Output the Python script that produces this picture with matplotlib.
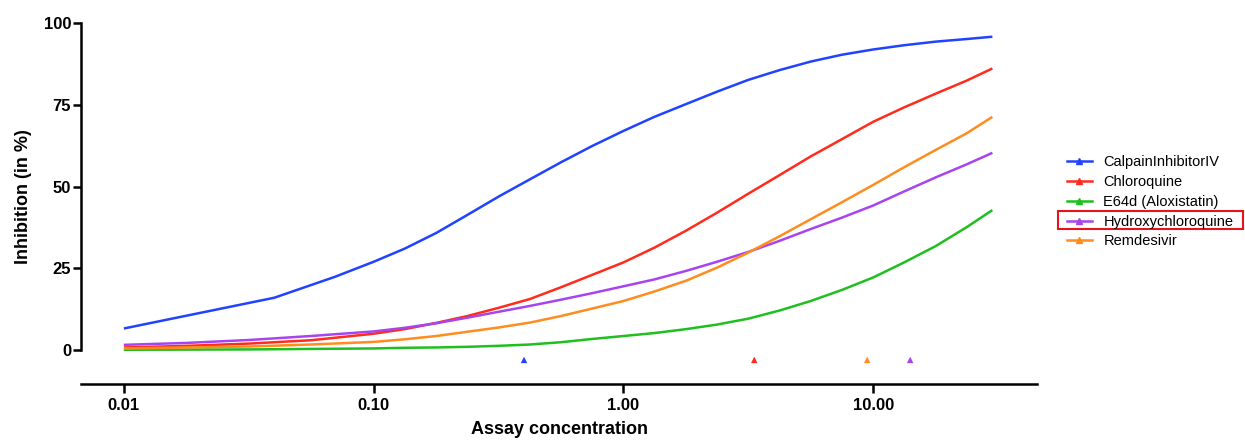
import matplotlib
matplotlib.use("Agg")
import matplotlib.pyplot as plt
from matplotlib.lines import Line2D
from matplotlib.patches import Rectangle

plt.rcParams["font.family"] = ["Liberation Sans", "DejaVu Sans"]

# concentrations
conc = [0.01, 0.018, 0.032, 0.056, 0.1, 0.133, 0.178, 0.237, 0.316, 0.422, 0.562, 0.75,
        1.0, 1.33, 1.78, 2.37, 3.16, 4.22, 5.62, 7.5, 10, 13.3, 17.8, 23.7, 30]
conc_calpain = [0.01, 0.04, 0.07, 0.1, 0.133, 0.178, 0.237, 0.316, 0.422, 0.562, 0.75,
                1.0, 1.33, 1.78, 2.37, 3.16, 4.22, 5.62, 7.5, 10, 13.3, 17.8, 23.7, 30]

calpain = [6.6, 16.0, 22.4, 27.0, 31.0, 35.8, 41.3, 46.9, 52.2, 57.4, 62.4,
           67.0, 71.3, 75.2, 79.0, 82.6, 85.6, 88.2, 90.3, 91.9, 93.2, 94.3, 95.1, 95.8]
chloroquine = [0.8, 1.3, 2.0, 3.0, 5.0, 6.4, 8.3, 10.4, 12.9, 15.6, 19.2, 23.0,
               26.8, 31.3, 36.5, 42.0, 47.8, 53.5, 59.2, 64.5, 69.8, 74.2, 78.4, 82.4, 86.1]
e64d = [0.1, 0.15, 0.2, 0.35, 0.5, 0.7, 0.8, 1.0, 1.3, 1.7, 2.4, 3.4,
        4.3, 5.2, 6.4, 7.8, 9.6, 12.1, 15.0, 18.4, 22.2, 26.8, 31.8, 37.6, 42.8]
hydroxy = [1.6, 2.2, 3.1, 4.3, 5.7, 6.8, 8.2, 9.9, 11.7, 13.5, 15.4, 17.4,
           19.5, 21.6, 24.2, 27.0, 30.0, 33.4, 37.0, 40.5, 44.2, 48.5, 52.8, 56.8, 60.3]
remdesivir = [0.5, 0.8, 1.1, 1.7, 2.5, 3.3, 4.3, 5.6, 6.9, 8.4, 10.4, 12.7,
              15.0, 17.9, 21.2, 25.2, 29.8, 34.8, 40.0, 45.2, 50.5, 55.9, 61.2, 66.3, 71.3]

# IC50 markers shown under the curves
ic50_x = [0.40, 3.34, 9.46, 14.06]
ic50_y = [-3, -3, -3, -3]

names = ["CalpainInhibitorIV", "Chloroquine", "E64d (Aloxistatin)", "Hydroxychloroquine", "Remdesivir"]
colors = ["#2143FF", "#FF2B1C", "#1FBF1F", "#A844EE", "#FF8C1E"]
ic50_colors = [colors[0], colors[1], colors[4], colors[3]]

fig = plt.figure(figsize=(12.45, 4.42), dpi=100)
ax = fig.add_axes([0.065, 0.131, 0.768, 0.817])

series = [(conc_calpain, calpain), (conc, chloroquine), (conc, e64d), (conc, hydroxy), (conc, remdesivir)]
for (xs, ys), c in zip(series, colors):
    ax.plot(xs, ys, color=c, lw=1.8, solid_capstyle="butt", solid_joinstyle="round")

ax.scatter(ic50_x, ic50_y, marker="^", s=22, c=ic50_colors, linewidths=0, zorder=3)

ax.set_xscale("log")
ax.set_xlim(0.00673, 45.3)
ax.set_ylim(-10.4, 100)
ax.set_xticks([0.01, 0.1, 1, 10])
ax.set_xticklabels(["0.01", "0.10", "1.00", "10.00"])
ax.minorticks_off()
ax.set_yticks([0, 25, 50, 75, 100])

for s in ["top", "right"]:
    ax.spines[s].set_visible(False)
for s in ["left", "bottom"]:
    ax.spines[s].set_linewidth(1.8)
ax.spines["left"].set_bounds(0, 100)

ax.tick_params(axis="x", length=6.5, width=1.8, pad=3.5, labelsize=12)
ax.tick_params(axis="y", length=6, width=1.8, pad=1, labelsize=12)
for lab in ax.get_xticklabels() + ax.get_yticklabels():
    lab.set_fontweight("bold")

ax.set_xlabel("Assay concentration", fontsize=13, fontweight="bold", labelpad=6)
ax.set_ylabel("Inhibition (in %)", fontsize=13, fontweight="bold")
ax.yaxis.set_label_coords(-0.051, 0.52)

handles = [Line2D([], [], color=c, lw=1.8, marker="^", markersize=4) for c in colors]
fig.legend(handles, names, loc="upper left", bbox_to_anchor=(0.857, 0.649),
           frameon=False, fontsize=10.5, handlelength=1.7, handletextpad=0.8,
           labelspacing=0.40, borderpad=0, borderaxespad=0, numpoints=1)

fig.add_artist(Rectangle((0.8498, 0.4819), 0.1486, 0.0407, transform=fig.transFigure,
                         fill=False, edgecolor="#E8141C", lw=1.5))

fig.savefig("out.png", dpi=100)
